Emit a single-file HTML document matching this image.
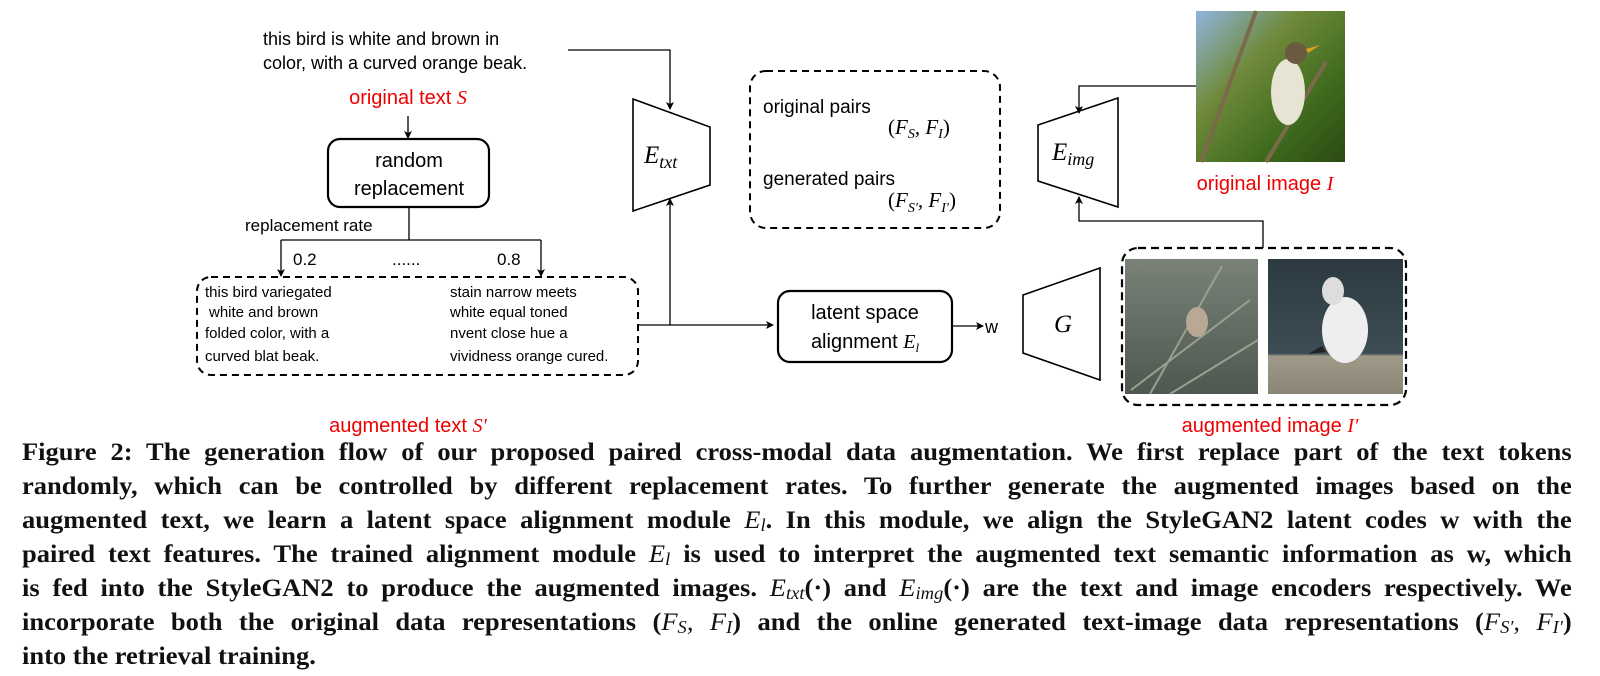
<!DOCTYPE html>
<html><head><meta charset="utf-8"><style>
html,body{margin:0;padding:0;background:#fff;width:1600px;height:676px;overflow:hidden;}
svg{position:absolute;left:0;top:0;}
.cap{position:absolute;left:22px;top:0;width:1462px;transform:scaleX(1.06);transform-origin:0 0;font-family:"Liberation Serif",serif;font-weight:bold;font-size:25px;color:#111;}
.cap div{position:absolute;left:0;width:1462px;white-space:nowrap;text-align:justify;text-align-last:justify;height:34px;line-height:34px;}
.cap div.last{text-align-last:left;}
.m{font-weight:normal;font-style:italic;}
sub{font-size:70%;vertical-align:-3px;line-height:0;}
</style></head><body>
<svg width="1600" height="440" viewBox="0 0 1600 440" font-family="Liberation Sans, sans-serif">
<defs>
<marker id="a" markerWidth="8" markerHeight="8" refX="7" refY="4" orient="auto" markerUnits="userSpaceOnUse"><path d="M0,0 L8,4 L0,8 L2,4 z" fill="#000"/></marker>
<linearGradient id="g1" x1="0" y1="0" x2="1" y2="1"><stop offset="0" stop-color="#8fb4e0"/><stop offset="0.35" stop-color="#6f8a3a"/><stop offset="0.7" stop-color="#3f6a1e"/><stop offset="1" stop-color="#2b4a12"/></linearGradient>
<linearGradient id="g2" x1="0" y1="0" x2="0" y2="1"><stop offset="0" stop-color="#7a8278"/><stop offset="1" stop-color="#4e5850"/></linearGradient>
<linearGradient id="g3" x1="0" y1="0" x2="0" y2="1"><stop offset="0" stop-color="#2c3a40"/><stop offset="0.7" stop-color="#3e4c55"/><stop offset="0.72" stop-color="#a09a8a"/><stop offset="1" stop-color="#8a8474"/></linearGradient>
</defs>
<g fill="#000" font-size="18">
<text x="263" y="45">this bird is white and brown in</text>
<text x="263" y="69">color, with a curved orange beak.</text>
</g>
<text x="408" y="104" font-size="20" fill="#e00" text-anchor="middle">original text <tspan font-family="Liberation Serif, serif" font-style="italic">S</tspan></text>
<path d="M568,50 H670 V109" fill="none" stroke="#000" stroke-width="1.3" marker-end="url(#a)"/>
<path d="M408,116 V138" stroke="#000" stroke-width="1.3" marker-end="url(#a)"/>
<rect x="328" y="139" width="161" height="68" rx="12" fill="none" stroke="#000" stroke-width="2.2"/>
<text x="409" y="167" font-size="20" text-anchor="middle">random</text>
<text x="409" y="195" font-size="20" text-anchor="middle">replacement</text>
<path d="M409,207 V240 M281,240 H541" stroke="#000" stroke-width="1.3" fill="none"/>
<path d="M281,240 V276" stroke="#000" stroke-width="1.3" marker-end="url(#a)"/>
<path d="M541,240 V276" stroke="#000" stroke-width="1.3" marker-end="url(#a)"/>
<text x="245" y="231" font-size="17">replacement rate</text>
<text x="293" y="265" font-size="17">0.2</text>
<text x="392" y="265" font-size="17">......</text>
<text x="497" y="265" font-size="17">0.8</text>
<rect x="197" y="277" width="441" height="98" rx="14" fill="none" stroke="#000" stroke-width="2" stroke-dasharray="7,5"/>
<g font-size="15">
<text x="205" y="297">this bird variegated</text>
<text x="209" y="317">white and brown</text>
<text x="205" y="338">folded color, with a</text>
<text x="205" y="361">curved blat beak.</text>
<text x="450" y="297">stain narrow meets</text>
<text x="450" y="317">white equal toned</text>
<text x="450" y="338">nvent close hue a</text>
<text x="450" y="361">vividness orange cured.</text>
</g>
<text x="408" y="432" font-size="20" fill="#e00" text-anchor="middle">augmented text <tspan font-family="Liberation Serif, serif" font-style="italic">S′</tspan></text>
<polygon points="633,99 710,127 710,185 633,211" fill="#fff" stroke="#000" stroke-width="1.6"/>
<text x="644" y="163" font-family="Liberation Serif, serif" font-style="italic" font-size="25">E<tspan font-size="18" dy="5">txt</tspan></text>
<path d="M638,325 H773" stroke="#000" stroke-width="1.3" marker-end="url(#a)"/>
<path d="M670,325 V199" stroke="#000" stroke-width="1.3" marker-end="url(#a)"/>
<rect x="778" y="291" width="174" height="71" rx="12" fill="none" stroke="#000" stroke-width="2.2"/>
<text x="865" y="319" font-size="20" text-anchor="middle">latent space</text>
<text x="865" y="348" font-size="20" text-anchor="middle">alignment <tspan font-family="Liberation Serif, serif" font-style="italic">E<tspan font-size="13" dy="4">l</tspan></tspan></text>
<path d="M952,326 H983" stroke="#000" stroke-width="1.3" marker-end="url(#a)"/>
<text x="985" y="333" font-size="18">w</text>
<polygon points="1023,295 1100,268 1100,380 1023,353" fill="#fff" stroke="#000" stroke-width="1.6"/>
<text x="1054" y="332" font-family="Liberation Serif, serif" font-style="italic" font-size="25">G</text>
<rect x="1122" y="248" width="284" height="157" rx="16" fill="none" stroke="#000" stroke-width="2.2" stroke-dasharray="8,5"/>
<rect x="1125" y="259" width="133" height="135" fill="url(#g2)"/>
<path d="M1131,390 L1250,300 M1150,394 L1222,266 M1170,394 L1258,340" stroke="#9aa090" stroke-width="2" fill="none"/>
<ellipse cx="1197" cy="322" rx="11" ry="15" fill="#b8a894"/>
<rect x="1268" y="259" width="135" height="135" fill="url(#g3)"/>
<ellipse cx="1345" cy="330" rx="23" ry="33" fill="#eee"/>
<ellipse cx="1333" cy="291" rx="11" ry="14" fill="#ddd"/>
<path d="M1322,346 l-14,8 l18,-2 z" fill="#222"/>
<text x="1270" y="432" font-size="20" fill="#e00" text-anchor="middle">augmented image <tspan font-family="Liberation Serif, serif" font-style="italic">I′</tspan></text>
<rect x="750" y="71" width="250" height="157" rx="16" fill="none" stroke="#000" stroke-width="2" stroke-dasharray="7,5"/>
<text x="763" y="113" font-size="19">original pairs</text>
<text x="888" y="134" font-family="Liberation Serif, serif" font-size="21">(<tspan font-style="italic">F<tspan font-size="14" dy="4">S</tspan><tspan dy="-4">, F</tspan><tspan font-size="14" dy="4">I</tspan></tspan><tspan dy="-4">)</tspan></text>
<text x="763" y="185" font-size="19">generated pairs</text>
<text x="888" y="207" font-family="Liberation Serif, serif" font-size="21">(<tspan font-style="italic">F<tspan font-size="14" dy="5">S′</tspan><tspan dy="-5">, F</tspan><tspan font-size="14" dy="5">I′</tspan></tspan><tspan dy="-5">)</tspan></text>
<polygon points="1038,125 1118,98 1118,207 1038,181" fill="#fff" stroke="#000" stroke-width="1.6"/>
<text x="1052" y="160" font-family="Liberation Serif, serif" font-style="italic" font-size="25">E<tspan font-size="18" dy="5">img</tspan></text>
<path d="M1196,86 H1079 V113" stroke="#000" stroke-width="1.3" fill="none" marker-end="url(#a)"/>
<path d="M1263,248 V221 H1079 V197" stroke="#000" stroke-width="1.3" fill="none" marker-end="url(#a)"/>
<rect x="1196" y="11" width="149" height="151" fill="url(#g1)"/>
<path d="M1201,162 L1256,11 M1266,162 L1326,62" stroke="#7a6a4a" stroke-width="4"/>
<ellipse cx="1288" cy="92" rx="17" ry="33" fill="#e8e4d4"/>
<circle cx="1296" cy="53" r="11" fill="#6a5a40"/>
<path d="M1306,49 l14,-4 l-12,8z" fill="#e0a020"/>
<text x="1265" y="190" font-size="20" fill="#e00" text-anchor="middle">original image <tspan font-family="Liberation Serif, serif" font-style="italic">I</tspan></text>
</svg>
<div class="cap">
<div style="top:436px">Figure 2: The generation flow of our proposed paired cross-modal data augmentation. We first replace part of the text tokens</div>
<div style="top:470px">randomly, which can be controlled by different replacement rates. To further generate the augmented images based on the</div>
<div style="top:504px">augmented text, we learn a latent space alignment module <span class="m">E<sub>l</sub></span>. In this module, we align the StyleGAN2 latent codes w with the</div>
<div style="top:538px">paired text features. The trained alignment module <span class="m">E<sub>l</sub></span> is used to interpret the augmented text semantic information as w, which</div>
<div style="top:572px">is fed into the StyleGAN2 to produce the augmented images. <span class="m">E<sub>txt</sub></span>(·) and <span class="m">E<sub>img</sub></span>(·) are the text and image encoders respectively. We</div>
<div style="top:606px">incorporate both the original data representations (<span class="m">F<sub>S</sub>, F<sub>I</sub></span>) and the online generated text-image data representations (<span class="m">F<sub>S′</sub>, F<sub>I′</sub></span>)</div>
<div class="last" style="top:640px">into the retrieval training.</div>
</div>
</body></html>
